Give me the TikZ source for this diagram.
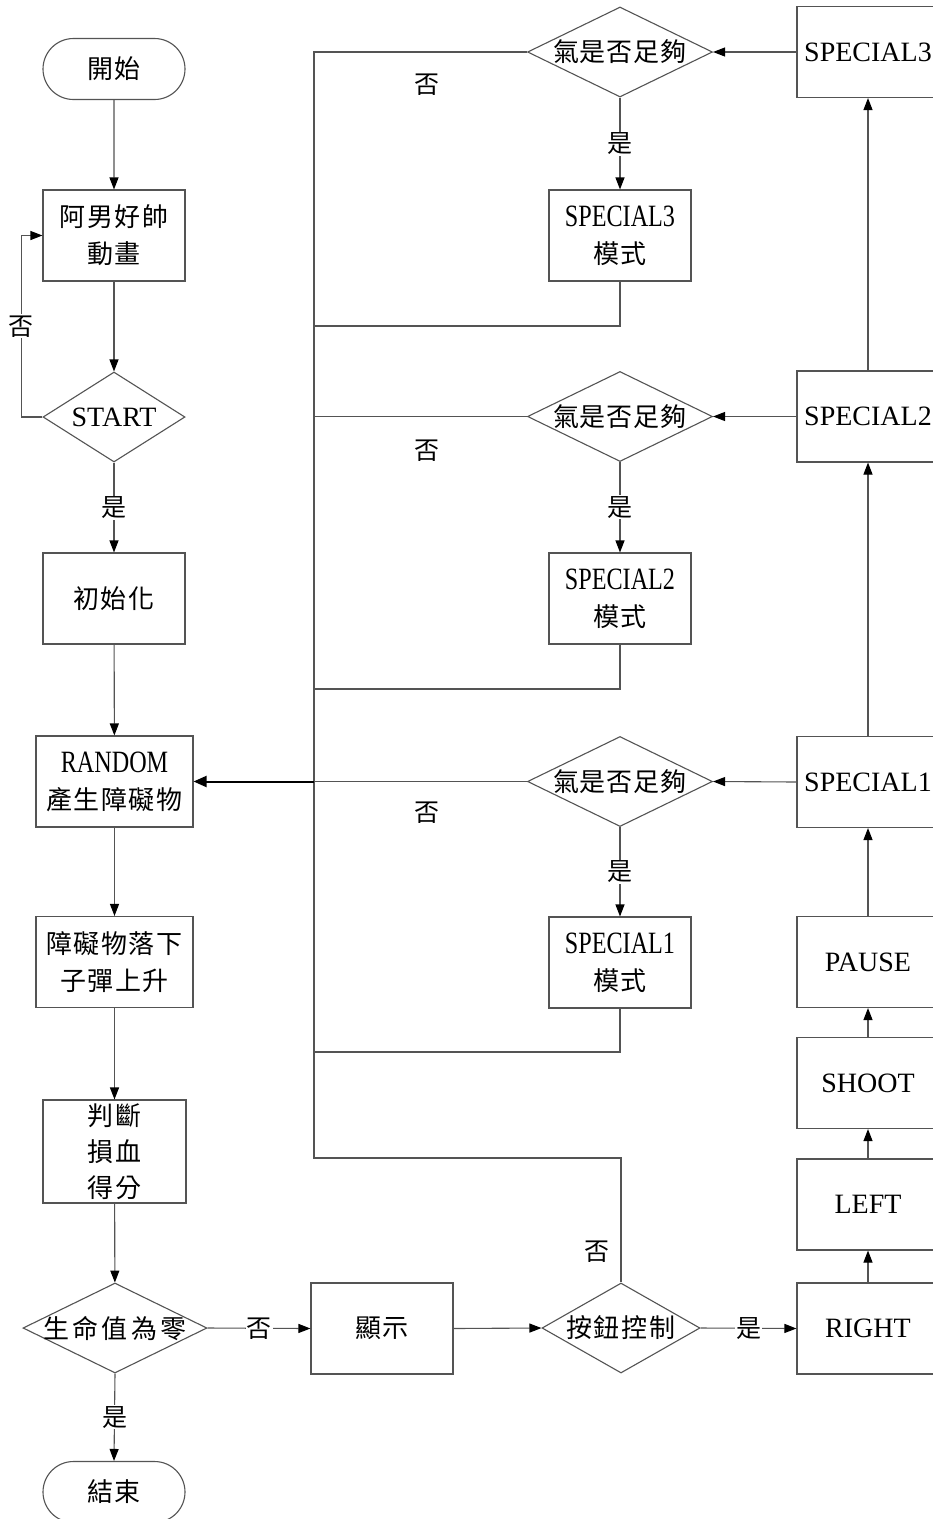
\documentclass[tikz,border=0pt]{standalone}
\usepackage{fontspec}
\usepackage{graphicx}
\setmainfont{Liberation Serif}
\newfontfamily\cjk{Noto Sans CJK TC}
\usetikzlibrary{shapes.geometric,shapes.misc,arrows.meta}
\makeatletter
\newcommand\cj[2][1.5pt]{{\cjk\@tfor\cjtok:=#2\do{\cjtok\hspace{#1}}\unskip}}
\makeatother
\newcommand\nar[1]{\scalebox{0.78}[1]{\fontsize{31}{37}\selectfont #1}}
\definecolor{lc}{gray}{0.33}
\tikzset{
  ln/.style={draw=lc, line width=1.1pt},
  arr/.style={ln, -{Triangle[length=12pt,width=9pt,color=black]}},
  pbox/.style={draw=lc, line width=1.1pt, minimum width=142pt, minimum height=91pt,
    inner sep=0pt, align=center, font=\fontsize{26}{37}\selectfont},
  rbox/.style={pbox, font=\fontsize{28}{34}\selectfont},
  term/.style={pbox, rounded rectangle, minimum height=61pt},
  dec/.style={draw=lc, line width=1.1pt, diamond, inner sep=0pt, minimum height=90pt,
    font=\fontsize{26}{30}\selectfont},
  lab/.style={fill=white, inner sep=1pt, font=\fontsize{25}{25}\selectfont\cjk},
  thickarr/.style={draw=black, line width=2pt, -{Triangle[length=13pt,width=11pt]}},
}
\begin{document}
\begin{tikzpicture}[x=1pt,y=-1pt]
\useasboundingbox (0,0) rectangle (933,1519);
\clip (0,0) rectangle (933,1519);
\fill[white] (0,0) rectangle (933,1519);

% left column
\node[term] (start) at (114,69) {\cj{開始}};
\node[pbox] (anim) at (114,235.5) {\cj{阿男好帥}\\\cj{動畫}};
\node[dec, minimum width=142pt] (sd) at (114,417) {\makebox[0pt]{\fontsize{28}{28}\selectfont START}};
\node[pbox] (init) at (114,598.5) {\cj{初始化}};
\node[pbox, minimum width=157pt] (rnd) at (114.5,781.5) {\nar{RANDOM}\\\cj{產生障礙物}};
\node[pbox, minimum width=157pt] (fall) at (114.5,962) {\cj{障礙物落下}\\\cj{子彈上升}};
\node[pbox, minimum width=143pt, minimum height=103pt, font=\fontsize{26}{36}\selectfont] (judge) at (114.5,1151.5) {\cj{判斷}\\\cj{損血}\\\cj{得分}};
\node[dec, minimum width=184pt] (life) at (115,1328) {\makebox[0pt]{\cj[3.5pt]{生命值為零}}};
\node[term] (end) at (114,1492) {\cj{結束}};

% bottom row
\node[pbox] (show) at (382,1328.5) {\cj[2pt]{顯示}};
\node[dec, minimum width=158pt] (ctrl) at (621,1328) {\makebox[0pt]{\cj[2pt]{按鈕控制}}};

% right column
\node[rbox] (right) at (868,1328.5) {RIGHT};
\node[rbox] (left) at (868,1204.5) {LEFT};
\node[rbox] (shoot) at (868,1083) {SHOOT};
\node[rbox] (pause) at (868,962) {PAUSE};
\node[rbox] (sp1) at (868,782) {SPECIAL1};
\node[rbox] (sp2) at (868,416.5) {SPECIAL2};
\node[rbox] (sp3) at (868,52) {SPECIAL3};

% middle column
\node[dec, minimum width=185pt] (d3) at (620,52) {\makebox[0pt]{\cj[1pt]{氣是否足夠}}};
\node[pbox] (m3) at (620,235.5) {\nar{SPECIAL3}\\\cj{模式}};
\node[dec, minimum width=185pt] (d2) at (620,416.5) {\makebox[0pt]{\cj[1pt]{氣是否足夠}}};
\node[pbox] (m2) at (620,598.5) {\nar{SPECIAL2}\\\cj{模式}};
\node[dec, minimum width=185pt] (d1) at (620,781.5) {\makebox[0pt]{\cj[1pt]{氣是否足夠}}};
\node[pbox] (m1) at (620,962.5) {\nar{SPECIAL1}\\\cj{模式}};

% left column connectors
\draw[arr] (start) -- (anim);
\draw[arr] (anim) -- (sd);
\draw[arr] (sd.west) -- ++(-21,0) |- node[lab, pos=0.25] {否} (anim.west);
\draw[arr] (sd.south) -- node[lab] {是} (init.north);
\draw[arr] (init) -- (rnd);
\draw[arr] (rnd) -- (fall);
\draw[arr] (fall) -- (judge);
\draw[arr] (judge) -- (life);
\draw[arr] (life.south) -- node[lab] {是} (end.north);
\draw[arr] (life.east) -- node[lab] {否} (show.west);
\draw[arr] (show.east) -- (ctrl.west);
\draw[arr] (ctrl.east) -- node[lab] {是} (right.west);

% right column connectors
\draw[arr] (right) -- (left);
\draw[arr] (left) -- (shoot);
\draw[arr] (shoot) -- (pause);
\draw[arr] (pause) -- (sp1);
\draw[arr] (sp1) -- (sp2);
\draw[arr] (sp2) -- (sp3);
\draw[arr] (sp3.west) -- (d3.east);
\draw[arr] (sp2.west) -- (d2.east);
\draw[arr] (sp1.west) -- (d1.east);

% middle column connectors
\draw[arr] (d3.south) -- node[lab] {是} (m3.north);
\draw[arr] (d2.south) -- node[lab] {是} (m2.north);
\draw[arr] (d1.south) -- node[lab] {是} (m1.north);

% bus
\coordinate (busB) at (314,1158);
\coordinate (busT) at (314,52);
\draw[ln] (ctrl.north) |- (busB) -- (busT) -- (d3.west);
\node[lab, fill=none] (no0) at (597,1252) {否};
\draw[ln] (d2.west) -- (d2.west -| busT);
\coordinate (J) at (d1.west -| busT);
\draw[ln] (d1.west) -- (J);
\draw[thickarr] (J) -- (rnd.east);
\draw[ln] (m3.south) |- (314,326);
\draw[ln] (m2.south) |- (314,689);
\draw[ln] (m1.south) |- (314,1052);
\node[lab, fill=none] (no3) at (427,85) {否};
\node[lab, fill=none] (no2) at (427,451) {否};
\node[lab, fill=none] (no1) at (427,813) {否};
\end{tikzpicture}
\end{document}
